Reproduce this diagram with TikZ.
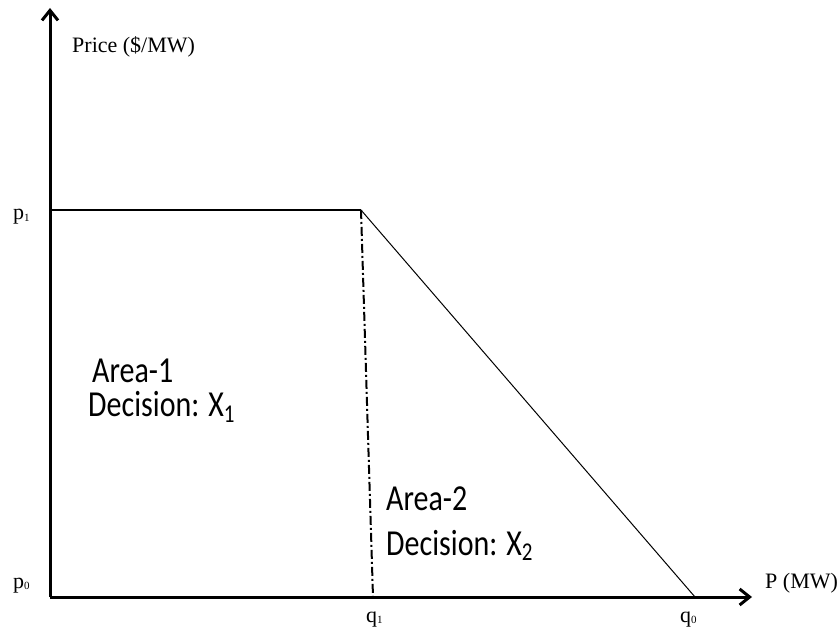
\documentclass[tikz,border=0pt]{standalone}
\usepackage{fontspec}
\setmainfont{Liberation Serif}
\newfontfamily\calfont{Carlito}
\usetikzlibrary{arrows.meta}
\newcommand{\lowsub}[1]{\raisebox{-0.3ex}{\fontsize{21}{21}\selectfont #1}}
\newcommand{\tinysub}[1]{\raisebox{-0.15ex}{\fontsize{11}{11}\selectfont #1}}
\newcommand{\tall}[1]{\scalebox{1}[1.22]{#1}}
\begin{document}
\begin{tikzpicture}[x=1pt,y=-1pt,
  axis/.style={line width=3pt,-{Straight Barb[length=10pt,width=16pt,line width=3pt]}},
  lab/.style={inner sep=0pt,anchor=base west,font=\fontsize{22}{24}\selectfont},
  area/.style={inner sep=0pt,anchor=base west,font=\calfont\fontsize{30}{34}\selectfont}]
\useasboundingbox (0,0) rectangle (839,631);
\coordinate (O) at (50,597);
\coordinate (ytop) at (50,8);
\coordinate (xend) at (752,597);
\coordinate (c) at (361,210);
\coordinate (p1s) at (50,210);
\coordinate (q1) at (373,597);
\coordinate (q0) at (695,597);
\draw[axis] (O) -- (ytop);
\draw[axis] (O) -- (xend);
\draw[line width=2pt] (p1s) -- (c);
\draw[line width=1pt] (c) -- (q0);
\draw[line width=2pt,dash pattern=on 9pt off 3pt on 2pt off 3pt] (c) -- (q1);
\node[lab] (ylab) at (72,53) {Price (\$/MW)};
\node[lab] (xlab) at (765,588) {P (MW)};
\node[lab] (p1) at (13,220) {p\tinysub{1}};
\node[lab] (p0) at (13,588) {p\tinysub{0}};
\node[lab] (q1l) at (366,622) {q\tinysub{1}};
\node[lab] (q0l) at (680,622) {q\tinysub{0}};
\node[area] (a1a) at (92,383) {\tall{Area-1}};
\node[area] (a1b) at (88,417) {\tall{Decision: X\lowsub{1}}};
\node[area] (a2a) at (386,510) {\tall{Area-2}};
\node[area] (a2b) at (386,555) {\tall{Decision: X\lowsub{2}}};
\end{tikzpicture}
\end{document}
